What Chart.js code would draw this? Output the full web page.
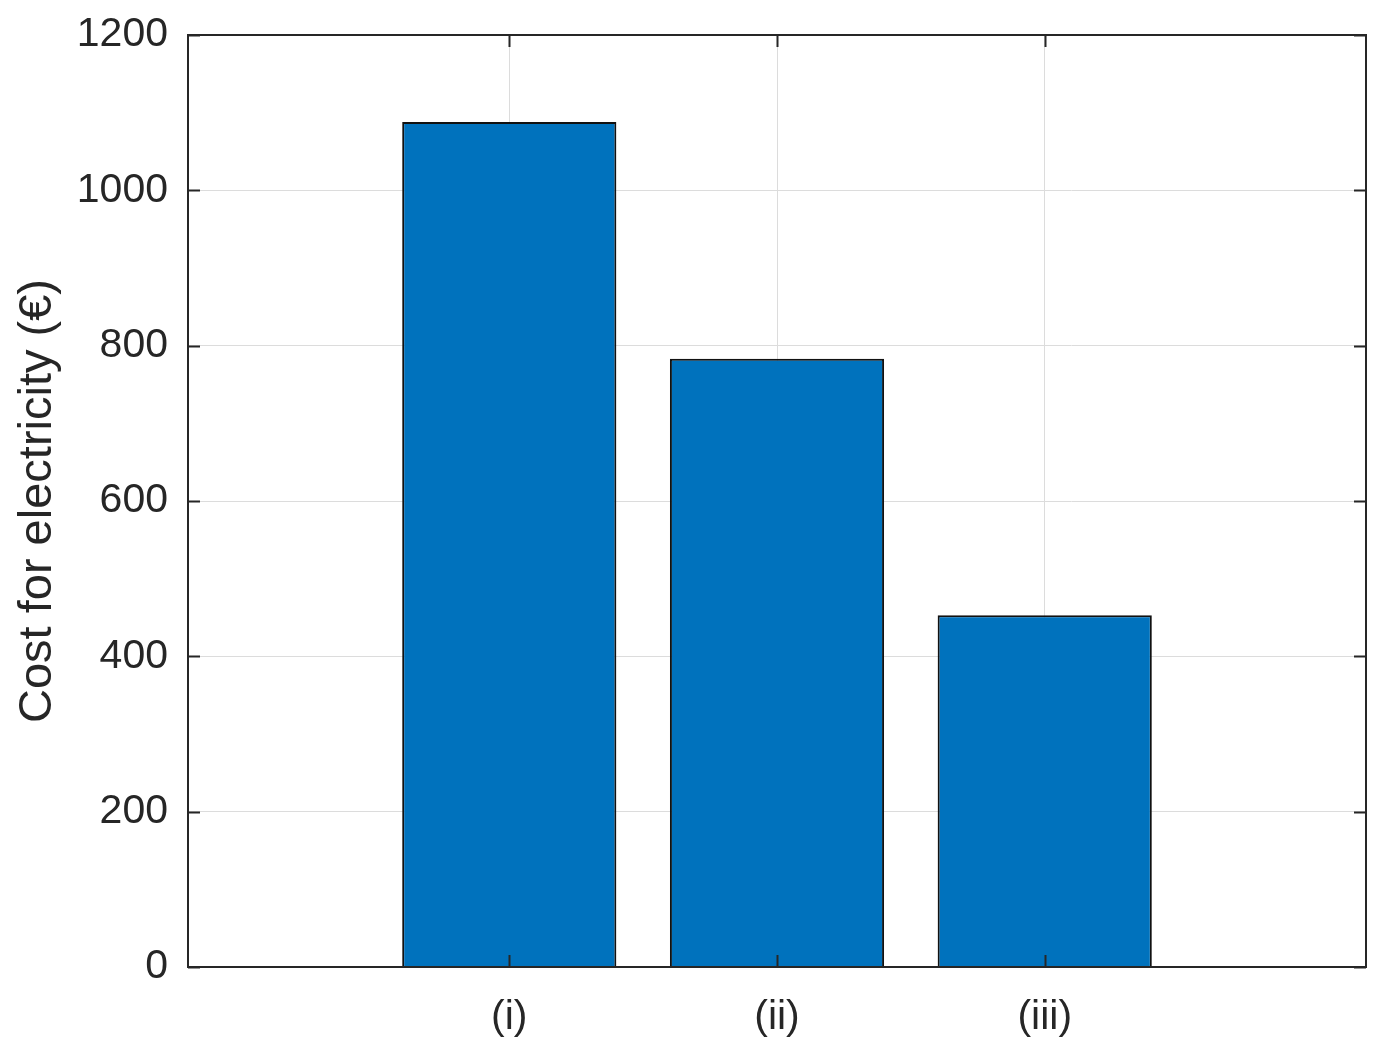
<!DOCTYPE html>
<html>
<head>
<meta charset="utf-8">
<title>Cost for electricity</title>
<script src="https://cdn.jsdelivr.net/npm/chart.js@4.4.1/dist/chart.umd.min.js"></script>
<style>
  html, body { margin: 0; padding: 0; background: #fff; }
  #wrap { width: 1382px; height: 1051px; }
</style>
</head>
<body>
<div id="wrap"><canvas id="costChart" width="1382" height="1051"></canvas></div>
<script>
// datos
var categories = ['(i)', '(ii)', '(iii)'];
var positions = [1, 2, 3];
var costs = [1088, 783, 453];
var yTicks = [0, 200, 400, 600, 800, 1000, 1200];

var ink = '#262626';
var fontFam = '"Liberation Sans", Arial, Helvetica, sans-serif';

// marco y marcas hacia dentro, estilo matlab
var framePlugin = {
    id: 'frame',
    afterDatasetsDraw: function(chart) {
        var ctx = chart.ctx;
        var a = chart.chartArea;
        var x = chart.scales.x;
        var y = chart.scales.y;
        ctx.save();
        ctx.strokeStyle = ink;
        ctx.lineWidth = 2;
        ctx.strokeRect(a.left, a.top, a.right - a.left, a.bottom - a.top);
        ctx.beginPath();
        x.ticks.forEach(function(t) {
            var px = Math.round(x.getPixelForValue(t.value)) + 0.5;
            ctx.moveTo(px, a.bottom); ctx.lineTo(px, a.bottom - 12);
            ctx.moveTo(px, a.top); ctx.lineTo(px, a.top + 12);
        });
        y.ticks.forEach(function(t) {
            var py = Math.round(y.getPixelForValue(t.value)) + 0.5;
            ctx.moveTo(a.left, py); ctx.lineTo(a.left + 12, py);
            ctx.moveTo(a.right, py); ctx.lineTo(a.right - 12, py);
        });
        ctx.stroke();
        ctx.restore();
    }
};

var ctx = document.getElementById('costChart').getContext('2d');
var costChart = new Chart(ctx, {
    type: 'bar',
    data: {
        datasets: [{
            label: 'Cost',
            data: positions.map(function(p, i) { return { x: p, y: costs[i] }; }),
            backgroundColor: '#0072BD',
            borderColor: '#111111',
            borderWidth: 2,
            barPercentage: 0.8,
            categoryPercentage: 1.0
        }]
    },
    options: {
        responsive: false,
        animation: false,
        layout: { padding: { top: 35, right: 16, left: 0, bottom: 0 } },
        plugins: {
            legend: { display: false },
            tooltip: { enabled: false }
        },
        scales: {
            x: {
                type: 'linear',
                min: -0.2,
                max: 4.2,
                offset: false,
                afterBuildTicks: function(scale) {
                    scale.ticks = positions.map(function(p) { return { value: p }; });
                },
                afterFit: function(scale) {
                    scale.height = 84;
                    scale.paddingLeft = 0;
                    scale.paddingRight = 0;
                },
                ticks: {
                    autoSkip: false,
                    maxRotation: 0,
                    padding: 26,
                    color: ink,
                    font: { family: fontFam, size: 41 },
                    callback: function(v) {
                        var i = positions.indexOf(v);
                        return i >= 0 ? categories[i] : '';
                    }
                },
                grid: { color: '#dcdcdc', lineWidth: 1, drawTicks: false, offset: false },
                border: { display: false }
            },
            y: {
                min: 0,
                max: 1200,
                afterBuildTicks: function(scale) {
                    scale.ticks = yTicks.map(function(v) { return { value: v }; });
                },
                afterFit: function(scale) {
                    scale.width = 188;
                    scale.paddingTop = 0;
                    scale.paddingBottom = 0;
                },
                ticks: {
                    padding: 20,
                    color: ink,
                    font: { family: fontFam, size: 41 },
                    callback: function(v) { return String(v); }
                },
                grid: { color: '#dcdcdc', lineWidth: 1, drawTicks: false },
                border: { display: false },
                title: {
                    display: true,
                    text: 'Cost for electricity (€)',
                    color: ink,
                    padding: { top: 10, bottom: 0 },
                    font: { family: fontFam, size: 47 }
                }
            }
        }
    },
    plugins: [framePlugin]
});
</script>
</body>
</html>
